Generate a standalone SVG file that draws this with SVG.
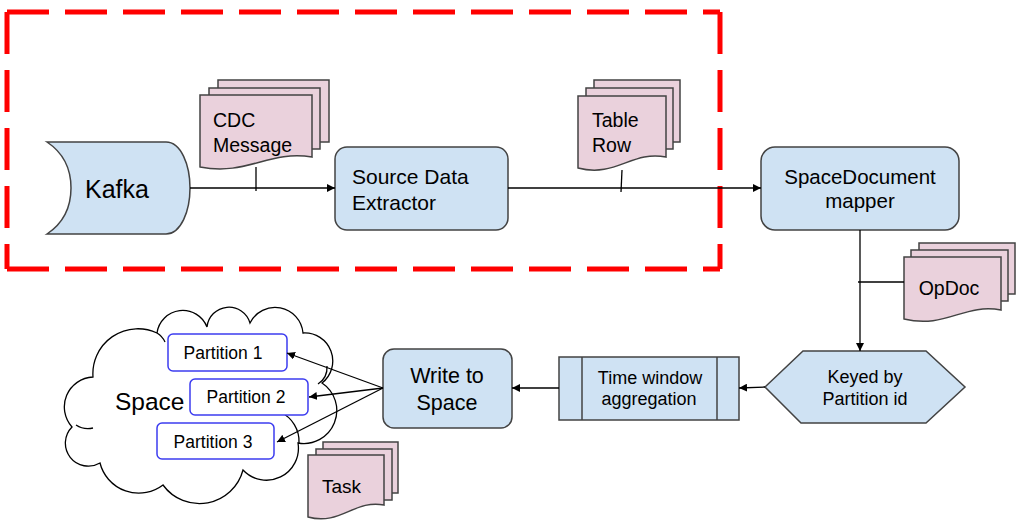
<svg xmlns="http://www.w3.org/2000/svg" width="1029" height="529" viewBox="0 0 1029 529">
<defs>
<marker id="arr" viewBox="0 0 10 10" refX="10" refY="5" markerWidth="8" markerHeight="8" markerUnits="userSpaceOnUse" orient="auto">
<path d="M0,0 L10,5 L0,10 z" fill="#000"/>
</marker>
<style>
text{font-family:"Liberation Sans",Arial,sans-serif;fill:#000}
.box{fill:#cfe2f3;stroke:#434343;stroke-width:1.5}
.doc{fill:#ead1dc;stroke:#434343;stroke-width:1.5}
.part{fill:#fff;stroke:#3c3cf0;stroke-width:1.5}
.ln{fill:none;stroke:#000;stroke-width:1.3}
.red{fill:none;stroke:#ff0000;stroke-width:5;stroke-dasharray:42 16}
.cloud{fill:#fff;stroke:#000;stroke-width:1.3}
</style>
</defs>
<rect width="1029" height="529" fill="#fff"/>

<g id="boundary">
<line class="red" x1="7" y1="12" x2="720" y2="12"/>
<line class="red" x1="7" y1="12" x2="7" y2="269"/>
<line class="red" x1="720" y1="12" x2="720" y2="269"/>
<line class="red" x1="7" y1="269" x2="720" y2="269"/>
</g>

<g id="space-cloud">
<path class="cloud" d="M93,377 A45,45 0 0 1 157,333 A26,26 0 0 1 207,327 A22,22 0 0 1 250,323 A28,28 0 0 1 303,333 A28,28 0 0 1 322,383 A33,33 0 0 1 298,443 A32,32 0 0 1 243,470 A45,45 0 0 1 163,485 A40,40 0 0 1 100,463 A23,23 0 0 1 72,427 A30,30 0 0 1 93,377 Z"/>
<path class="ln" d="M280,412 A32,32 0 0 1 299,443"/>
<path class="ln" d="M318,384 A20,20 0 0 0 327,366"/>
<path class="ln" d="M76,425 A22,22 0 0 0 93,428"/>
<path class="ln" d="M157,333 A20,20 0 0 1 165,342"/>
<text x="115" y="410" font-size="24.5">Space</text>
</g>

<g id="kafka">
<path class="box" d="M47,142 H166 C181,142 190,165 190,188 C190,211 181,234 166,234 H47 C62,224 71,208 71,188 C71,168 62,152 47,142 Z"/>
<text x="117" y="198" font-size="25" text-anchor="middle">Kafka</text>
</g>

<g id="cdc-message">
<rect class="doc" x="218" y="80" width="111" height="62"/>
<rect class="doc" x="209" y="88" width="111" height="61"/>
<path class="doc" d="M200,95 H312 V157 C268,150 248,176 200,167 Z"/>
<text x="213" y="127" font-size="19.5">CDC</text>
<text x="213" y="152" font-size="19.5">Message</text>
</g>

<g id="source-data-extractor">
<rect class="box" x="335" y="147" width="173" height="83" rx="12"/>
<text x="352" y="184" font-size="21">Source Data</text>
<text x="352" y="210" font-size="21">Extractor</text>
</g>

<g id="table-row">
<rect class="doc" x="594" y="80" width="86" height="62"/>
<rect class="doc" x="586" y="88" width="87" height="61"/>
<path class="doc" d="M578,96 H666 V157 C632,150 616,178 578,168 Z"/>
<text x="592" y="127" font-size="19.5">Table</text>
<text x="592" y="152" font-size="19.5">Row</text>
</g>

<g id="spacedocument-mapper">
<rect class="box" x="761" y="147" width="198" height="83" rx="14"/>
<text x="860" y="184" font-size="20.5" text-anchor="middle">SpaceDocument</text>
<text x="860" y="208" font-size="20.5" text-anchor="middle">mapper</text>
</g>

<g id="opdoc">
<rect class="doc" x="919" y="243" width="96" height="51"/>
<rect class="doc" x="911" y="250" width="97" height="51"/>
<path class="doc" d="M904,257 H1001 V310 C964,303 946,329 904,319 Z"/>
<text x="949" y="295" font-size="19.5" text-anchor="middle">OpDoc</text>
</g>

<g id="keyed-by-partition">
<path class="box" d="M765,387 L803,351 H926 L965,387 L926,423 H801 Z"/>
<text x="865" y="383" font-size="18" text-anchor="middle">Keyed by</text>
<text x="865" y="405" font-size="18" text-anchor="middle">Partition id</text>
</g>

<g id="time-window-aggregation">
<rect class="box" x="559" y="357" width="180" height="63"/>
<line class="box" x1="582" y1="357" x2="582" y2="420"/>
<line class="box" x1="717" y1="357" x2="717" y2="420"/>
<text x="650" y="384" font-size="18" text-anchor="middle">Time window</text>
<text x="649" y="405" font-size="18" text-anchor="middle">aggregation</text>
</g>

<g id="write-to-space">
<rect class="box" x="383" y="349" width="129" height="79" rx="11"/>
<text x="447" y="383" font-size="21.5" text-anchor="middle">Write to</text>
<text x="447" y="410" font-size="21.5" text-anchor="middle">Space</text>
</g>

<g id="partition-1">
<rect class="part" x="168" y="334" width="119" height="37" rx="5"/>
<text x="223" y="359" font-size="17.5" text-anchor="middle">Partition 1</text>
</g>
<g id="partition-2">
<rect class="part" x="190" y="379" width="118" height="36" rx="5"/>
<text x="246" y="403" font-size="17.5" text-anchor="middle">Partition 2</text>
</g>
<g id="partition-3">
<rect class="part" x="157" y="423" width="117" height="36" rx="5"/>
<text x="213" y="448" font-size="17.5" text-anchor="middle">Partition 3</text>
</g>

<g id="task">
<rect class="doc" x="323" y="442" width="75" height="51"/>
<rect class="doc" x="316" y="449" width="76" height="51"/>
<path class="doc" d="M308,455 H384 V505 C355,499 340,526 308,517 Z"/>
<text x="322" y="493" font-size="19">Task</text>
</g>

<g id="connectors">
<line class="ln" x1="190" y1="188" x2="335" y2="188" marker-end="url(#arr)"/>
<line class="ln" x1="256" y1="167" x2="256" y2="191"/>
<line class="ln" x1="508" y1="188" x2="761" y2="188" marker-end="url(#arr)"/>
<line class="ln" x1="622" y1="170" x2="621" y2="192"/>
<line class="ln" x1="860" y1="230" x2="860" y2="351" marker-end="url(#arr)"/>
<line class="ln" x1="858" y1="282" x2="904" y2="282"/>
<line class="ln" x1="765" y1="387" x2="739" y2="388" marker-end="url(#arr)"/>
<line class="ln" x1="559" y1="388" x2="512" y2="388" marker-end="url(#arr)"/>
<line class="ln" x1="383" y1="388" x2="287" y2="353" marker-end="url(#arr)"/>
<line class="ln" x1="383" y1="388" x2="309" y2="397" marker-end="url(#arr)"/>
<line class="ln" x1="383" y1="388" x2="277" y2="442" marker-end="url(#arr)"/>
</g>
</svg>
